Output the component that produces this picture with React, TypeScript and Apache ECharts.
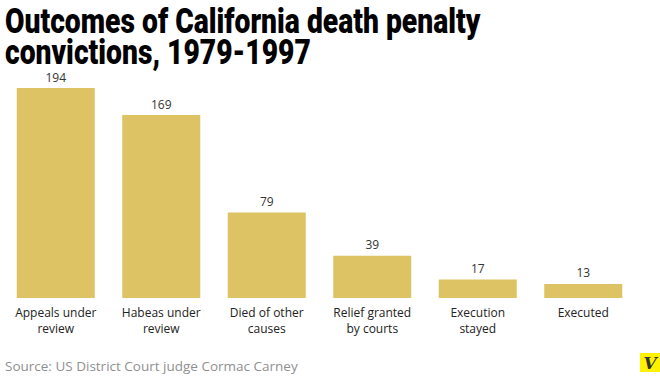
import React, { useEffect, useRef } from "react";
import * as echarts from "echarts";

const categories = [
  "Appeals under\nreview",
  "Habeas under\nreview",
  "Died of other\ncauses",
  "Relief granted\nby courts",
  "Execution\nstayed",
  "Executed",
];
const values = [194, 169, 79, 39, 17, 13];
const titleLines = ["Outcomes of California death penalty", "convictions, 1979-1997"];
const sourceText = "Source: US District Court judge Cormac Carney";

export default function App() {
  const ref = useRef<HTMLDivElement>(null);
  useEffect(() => {
    if (!ref.current) return;
    const chart = echarts.init(ref.current, null, { renderer: "svg" });
    chart.setOption({
      animation: false,
      backgroundColor: "#ffffff",
      grid: { left: 3, right: 24, top: 88, bottom: 86, containLabel: false },
      xAxis: {
        type: "category",
        data: categories,
        axisLine: { show: false },
        axisTick: { show: false },
        axisLabel: {
          interval: 0,
          margin: 6,
          color: "#222222",
          fontFamily: "Open Sans",
          fontSize: 12,
          lineHeight: 16,
        },
      },
      yAxis: {
        type: "value",
        min: 0,
        max: 194,
        show: false,
        splitLine: { show: false },
      },
      series: [
        {
          type: "bar",
          data: values,
          barWidth: 78,
          itemStyle: { color: "#DDC363" },
          label: {
            show: true,
            position: "top",
            distance: 5,
            color: "#333333",
            fontFamily: "Open Sans",
            fontSize: 12,
          },
        },
      ],
      graphic: [
        {
          type: "text",
          x: 5,
          y: 21,
          scaleX: 0.785,
          style: {
            text: titleLines[0],
            fontFamily: "Roboto",
            fontWeight: 900,
            fontSize: 36,
            fill: "#000000",
            verticalAlign: "middle",
          },
        },
        {
          type: "text",
          x: 5,
          y: 51.5,
          scaleX: 0.785,
          style: {
            text: titleLines[1],
            fontFamily: "Roboto",
            fontWeight: 900,
            fontSize: 36,
            fill: "#000000",
            verticalAlign: "middle",
          },
        },
        {
          type: "text",
          left: 5,
          top: 359,
          style: {
            text: sourceText,
            fontFamily: "Open Sans",
            fontSize: 13.5,
            fill: "#8f8f8f",
          },
        },
        {
          type: "rect",
          shape: { x: 640, y: 353, width: 20, height: 19 },
          style: { fill: "#FFF200" },
        },
        {
          type: "text",
          x: 650,
          y: 362.5,
          style: {
            text: "V",
            fontFamily: "DejaVu Serif",
            fontStyle: "italic",
            fontWeight: "bold",
            fontSize: 17,
            fill: "#333333",
            align: "center",
            verticalAlign: "middle",
          },
        },
      ],
    });
    return () => chart.dispose();
  }, []);
  return <div ref={ref} style={{ width: 660, height: 384, position: "absolute", left: 0, top: 0 }} />;
}
